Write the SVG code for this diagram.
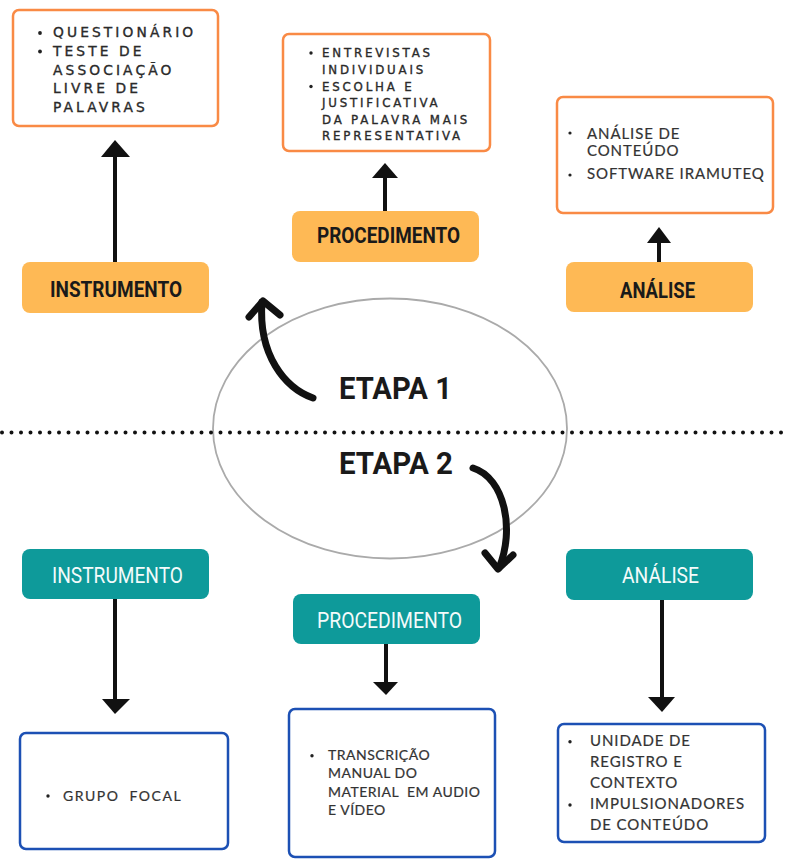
<svg xmlns="http://www.w3.org/2000/svg" width="786" height="861" viewBox="0 0 786 861">
<defs>
<style>
.ob{fill:#fff;stroke:#F98A45;stroke-width:2.5}
.bb{fill:#fff;stroke:#1C50B4;stroke-width:2.5}
.ol{fill:#FEB955}
.tl{fill:#0E9A9A}
.lbk{font-family:Roboto,"Liberation Sans",sans-serif;font-weight:bold;fill:#1a1a1a}
.lwh{font-family:Roboto,"Liberation Sans",sans-serif;font-weight:normal;fill:#f4fbfb}
.geo{font-family:"DejaVu Sans","Liberation Sans",sans-serif;fill:#2a2a2a;stroke:#2a2a2a;stroke-width:0.35}
.lato{font-family:Lato,"Liberation Sans",sans-serif;fill:#333;stroke:#333;stroke-width:0.2;white-space:pre}
.dot{fill:#222}
.ln{stroke:#111;stroke-width:4;fill:none}
.hd{fill:#111}
.brush{stroke:#111;stroke-width:7;fill:none;stroke-linecap:round;stroke-linejoin:round}
</style>
</defs>
<rect width="786" height="861" fill="#fff"/>

<g id="etapa-ellipse">
<ellipse cx="390" cy="428.5" rx="177" ry="130" fill="none" stroke="#aaa" stroke-width="1.8"/>
</g>
<g id="divider">
<line x1="2" y1="432.5" x2="786" y2="432.5" stroke="#111" stroke-width="4" stroke-linecap="round" stroke-dasharray="0 9.5"/>
</g>

<g id="connectors">
<line class="ln" x1="115" y1="262" x2="115" y2="155"/>
<polygon class="hd" points="101,157 130,157 115,140"/>
<line class="ln" x1="385" y1="211" x2="385" y2="176"/>
<polygon class="hd" points="372,178 398,178 385,163"/>
<line class="ln" x1="659" y1="262" x2="659" y2="241"/>
<polygon class="hd" points="647,243 671,243 659,227"/>
<line class="ln" x1="115" y1="599" x2="115" y2="701"/>
<polygon class="hd" points="102,699 130,699 115,714"/>
<line class="ln" x1="386" y1="644" x2="386" y2="684"/>
<polygon class="hd" points="373,682 398,682 386,695"/>
<line class="ln" x1="662" y1="600" x2="662" y2="699"/>
<polygon class="hd" points="648,697 675,697 662,712"/>
<path class="brush" d="M313,398 C285,388 258,355 262,302"/>
<path class="brush" d="M249,317 L263,301 L280,315"/>
<path class="brush" d="M473,468 C505,478 515,530 499,568"/>
<path class="brush" d="M485,553 L498,569 L513,555"/>
</g>

<g id="box-instrumento-1">
<rect class="ob" x="13" y="10" width="205" height="116" rx="6"/>
<circle class="dot" cx="40" cy="33" r="1.9"/>
<circle class="dot" cx="40" cy="51.5" r="1.9"/>
<text class="geo" font-size="13.8" letter-spacing="3.1">
<tspan x="53" y="37">QUESTIONÁRIO</tspan>
<tspan x="53" y="56">TESTE DE</tspan>
<tspan x="53" y="75">ASSOCIAÇÃO</tspan>
<tspan x="53" y="93">LIVRE DE</tspan>
<tspan x="53" y="112">PALAVRAS</tspan>
</text>
</g>

<g id="box-procedimento-1">
<rect class="ob" x="283" y="34" width="207" height="117" rx="6"/>
<circle class="dot" cx="311" cy="53" r="1.7"/>
<circle class="dot" cx="311" cy="86.5" r="1.7"/>
<text class="geo" font-size="11.8" letter-spacing="2.8">
<tspan x="322" y="57">ENTREVISTAS</tspan>
<tspan x="322" y="73.5">INDIVIDUAIS</tspan>
<tspan x="322" y="90.5">ESCOLHA E</tspan>
<tspan x="322" y="107">JUSTIFICATIVA</tspan>
<tspan x="322" y="123.5">DA PALAVRA MAIS</tspan>
<tspan x="322" y="139.5">REPRESENTATIVA</tspan>
</text>
</g>

<g id="box-analise-1">
<rect class="ob" x="557" y="97" width="216" height="116" rx="6"/>
<circle class="dot" cx="570" cy="133" r="1.6"/>
<circle class="dot" cx="570" cy="175" r="1.6"/>
<text class="lato" font-size="15" letter-spacing="0.9">
<tspan x="587" y="138.5">ANÁLISE DE</tspan>
<tspan x="587" y="156">CONTEÚDO</tspan>
<tspan x="587" y="179">SOFTWARE IRAMUTEQ</tspan>
</text>
</g>

<g id="label-instrumento-1">
<rect class="ol" x="22" y="262" width="187" height="51" rx="8"/>
<text class="lbk" x="50" y="297" font-size="22.5" textLength="132" lengthAdjust="spacingAndGlyphs">INSTRUMENTO</text>
</g>
<g id="label-procedimento-1">
<rect class="ol" x="292" y="211" width="187" height="51" rx="8"/>
<text class="lbk" x="317" y="243" font-size="22.5" textLength="143" lengthAdjust="spacingAndGlyphs">PROCEDIMENTO</text>
</g>
<g id="label-analise-1">
<rect class="ol" x="566" y="262" width="187" height="50" rx="8"/>
<text class="lbk" x="620" y="298" font-size="22.5" textLength="75" lengthAdjust="spacingAndGlyphs">ANÁLISE</text>
</g>

<g id="etapa-1">
<text class="lbk" x="339" y="399" font-size="32" fill="#111" textLength="113" lengthAdjust="spacingAndGlyphs">ETAPA 1</text>
</g>
<g id="etapa-2">
<text class="lbk" x="339" y="474" font-size="32" fill="#111" textLength="114" lengthAdjust="spacingAndGlyphs">ETAPA 2</text>
</g>

<g id="label-instrumento-2">
<rect class="tl" x="22" y="549" width="187" height="50" rx="8"/>
<text class="lwh" x="52" y="582.7" font-size="22.5" textLength="131" lengthAdjust="spacingAndGlyphs">INSTRUMENTO</text>
</g>
<g id="label-procedimento-2">
<rect class="tl" x="293" y="594" width="187" height="50" rx="8"/>
<text class="lwh" x="317" y="628" font-size="22.5" textLength="145" lengthAdjust="spacingAndGlyphs">PROCEDIMENTO</text>
</g>
<g id="label-analise-2">
<rect class="tl" x="566" y="549" width="187" height="51" rx="8"/>
<text class="lwh" x="622" y="583" font-size="22.5" textLength="77" lengthAdjust="spacingAndGlyphs">ANÁLISE</text>
</g>

<g id="box-instrumento-2">
<rect class="bb" x="20" y="733" width="208" height="116" rx="6"/>
<circle class="dot" cx="48" cy="796" r="1.7"/>
<text class="lato" x="63" y="800.7" font-size="14" letter-spacing="1.5">GRUPO  FOCAL</text>
</g>

<g id="box-procedimento-2">
<rect class="bb" x="289" y="709" width="206" height="148" rx="6"/>
<circle class="dot" cx="312" cy="755.7" r="1.7"/>
<text class="lato" font-size="14" letter-spacing="0.5">
<tspan x="328" y="760">TRANSCRIÇÃO</tspan>
<tspan x="328" y="778.3">MANUAL DO</tspan>
<tspan x="328" y="796.7">MATERIAL  EM AUDIO</tspan>
<tspan x="328" y="815">E VÍDEO</tspan>
</text>
</g>

<g id="box-analise-2">
<rect class="bb" x="558" y="724" width="207" height="118" rx="6"/>
<circle class="dot" cx="570" cy="741.7" r="1.7"/>
<circle class="dot" cx="570" cy="805" r="1.7"/>
<text class="lato" font-size="15" letter-spacing="0.9">
<tspan x="590" y="746">UNIDADE DE</tspan>
<tspan x="590" y="766.7">REGISTRO E</tspan>
<tspan x="590" y="788.3">CONTEXTO</tspan>
<tspan x="590" y="809.3">IMPULSIONADORES</tspan>
<tspan x="590" y="830">DE CONTEÚDO</tspan>
</text>
</g>
</svg>
